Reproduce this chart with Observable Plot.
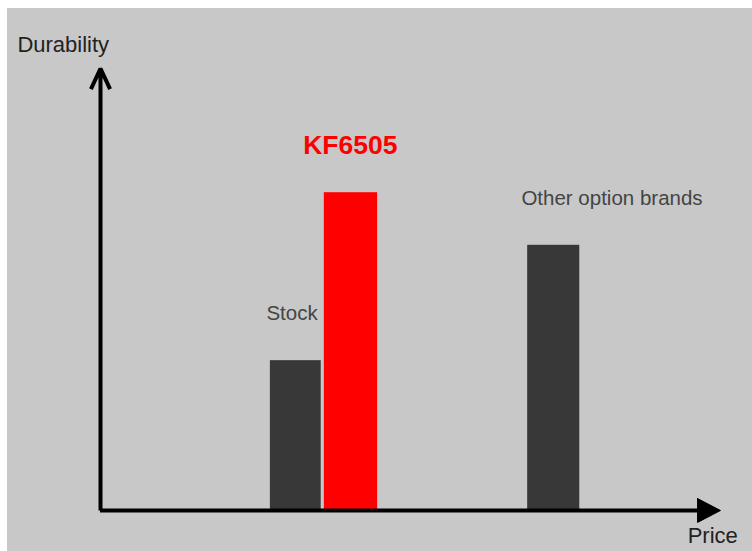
<!DOCTYPE html>
<html>
<head>
<meta charset="utf-8">
<script src="https://cdn.jsdelivr.net/npm/d3@7"></script>
<script src="https://cdn.jsdelivr.net/npm/@observablehq/plot@0.6"></script>
<style>
  html, body { margin: 0; padding: 0; background: #ffffff; width: 752px; height: 551px; overflow: hidden; }
  #bg { position: absolute; left: 7px; top: 8px; right: 0; bottom: 0; background: #c8c8c8; }
  #chart { position: absolute; left: 0; top: 0; }
  #chart svg { overflow: visible; background: transparent; }
</style>
</head>
<body>
<div id="bg"></div>
<div id="chart"></div>
<script>
// Data (price on x, durability on y, both on a 0–100 relative scale)
const categories = ["Stock", "KF6505", "Other option brands"];
const priceStart = [27.4, 36.1, 68.9];
const priceEnd = [35.6, 44.7, 77.3];
const durability = [33.9, 71.9, 60.0];
const labelPrice = [30.9, 40.3, 82.5];
const labelDurability = [44.6, 82.6, 70.6];
const axisTitles = ["Durability", "Price"];

const bars = categories.map((c, i) => ({category: c, x1: priceStart[i], x2: priceEnd[i], y: durability[i]}));
const labels = categories.map((c, i) => ({category: c, x: labelPrice[i], y: labelDurability[i]}));

const colorOpts = {domain: categories, range: ["#383838", "#ff0000", "#383838"]};
const labelColorOpts = ["#444444", "#ff0000", "#444444"];

const chart = Plot.plot({
  width: 752,
  height: 551,
  marginLeft: 100,
  marginRight: 32,
  marginTop: 68,
  marginBottom: 41,
  x: {domain: [0, 100], axis: null},
  y: {domain: [0, 100], axis: null},
  color: colorOpts,
  style: {background: "transparent", fontFamily: "'Liberation Sans', Arial, sans-serif"},
  marks: [
    Plot.rect(bars, {x1: "x1", x2: "x2", y1: () => 0, y2: "y", fill: "category"}),
    // y axis with open arrow head
    Plot.arrow([{x1: 0, y1: 0, x2: 0, y2: 100}], {x1: "x1", y1: "y1", x2: "x2", y2: "y2", stroke: "#000", strokeWidth: 4, headLength: 8.5, headAngle: 50, strokeLinecap: "butt"}),
    // x axis line
    Plot.ruleY([0], {x1: 0, x2: 96.5, stroke: "#000", strokeWidth: 4}),
    // x axis filled head
    Plot.line([{x: 96.3, y: 2.7}, {x: 100, y: 0}, {x: 96.3, y: -2.7}, {x: 96.3, y: 2.7}], {x: "x", y: "y", fill: "#000", stroke: "#000", strokeWidth: 1}),
    // bar labels
    Plot.text(labels.filter(d => d.category !== "KF6505"), {x: "x", y: "y", text: "category", fill: labelColorOpts[0], fontSize: 20.5}),
    Plot.text(labels.filter(d => d.category === "KF6505"), {x: "x", y: "y", text: "category", fill: labelColorOpts[1], fontSize: 26.5, fontWeight: "bold"}),
    // axis titles
    Plot.text([axisTitles[0]], {x: () => -13.4, y: () => 105.4, text: d => d, textAnchor: "start", fill: "#222", fontSize: 22}),
    Plot.text([axisTitles[1]], {x: () => 94.7, y: () => -5.7, text: d => d, textAnchor: "start", fill: "#222", fontSize: 22, letterSpacing: 1.2})
  ]
});
document.getElementById("chart").appendChild(chart);
</script>
</body>
</html>
